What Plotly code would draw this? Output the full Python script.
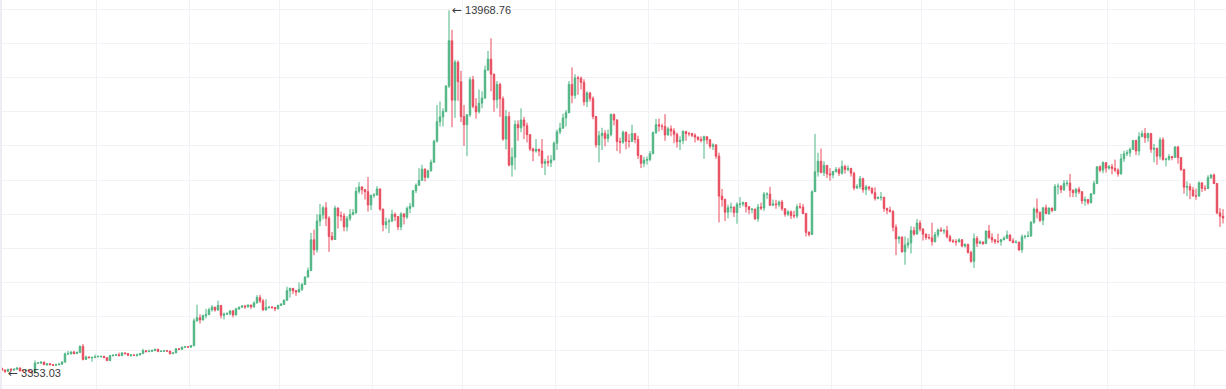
import pandas as pd
import plotly.graph_objects as go

# ---- daily OHLC, 2019-01-28 .. 2020-03-10 ----
open_ = [
    # Jan 2019 (28-31)
    3490, 3440, 3402, 3460,
    # Feb 2019
    3435, 3462, 3500, 3412, 3410, 3437, 3390, 3375, 3640, 3645, 3672, 3595, 3620, 3595, 3580, 3590, 3610, 3670, 3910, 3915, 3965, 3920, 3955, 4130, 3750, 3820, 3800, 3810,
    # Mar 2019
    3820, 3835, 3840, 3800, 3715, 3860, 3870, 3885, 3860, 3940, 3920, 3870, 3880, 3870, 3880, 3920, 4005, 3980, 3985, 4015, 4045, 3985, 3990, 4000, 3995, 3920, 3940, 4060, 4045, 4110, 4120,
    # Apr 2019
    4110, 4150, 4880, 4970, 4905, 5035, 5060, 5200, 5280, 5195, 5330, 5040, 5080, 5085, 5170, 5050, 5230, 5280, 5310, 5290, 5340, 5290, 5400, 5560, 5460, 5200, 5270, 5280, 5270, 5230,
    # May 2019
    5330, 5360, 5480, 5760, 5830, 5760, 5720, 5800, 5940, 6160, 6350, 7250, 6960, 7800, 7980, 8190, 7880, 7350, 7260, 8180, 7950, 7950, 7630, 7870, 7990, 8050, 8670, 8800, 8720, 8660, 8270,
    # Jun 2019
    8550, 8560, 8740, 8150, 7690, 7780, 7800, 8000, 7930, 7630, 8010, 7920, 8170, 8230, 8690, 8850, 8990, 9320, 9080, 9270, 9520, 10140, 10710, 10850, 11010, 11750, 13080, 11340, 12450, 11880,
    # Jul 2019
    10860, 10620, 10910, 11940, 11160, 11000, 11250, 11400, 12220, 12540, 12100, 11350, 11800, 11380, 10200, 10860, 9440, 9670, 10630, 10530, 10760, 10590, 10330, 9910, 9850, 9900, 9850, 9490, 9540, 9510, 9590,
    # Aug 2019
    10080, 10410, 10520, 10820, 10970, 11800, 11480, 11990, 11980, 11860, 11290, 11550, 11390, 10860, 10030, 10300, 10370, 10220, 10330, 10920, 10760, 10130, 10110, 10400, 10140, 10130, 10360, 10190, 9720, 9490, 9580,
    # Sep 2019
    9600, 9770, 10390, 10620, 10580, 10570, 10320, 10500, 10440, 10340, 10120, 10160, 10420, 10360, 10360, 10310, 10260, 10190, 10160, 10270, 10180, 9990, 10030, 9700, 8530, 8430, 8060, 8190, 8210, 8050,
    # Oct 2019
    8290, 8300, 8340, 8220, 8140, 8150, 7870, 8210, 8180, 8590, 8590, 8260, 8300, 8280, 8360, 8160, 8000, 8070, 7960, 7950, 8220, 8210, 8020, 7470, 7410, 8660, 9240, 9550, 9220, 9430, 9180,
    # Nov 2019
    9150, 9250, 9310, 9200, 9400, 9310, 9340, 9200, 8770, 8810, 9040, 8720, 8800, 8760, 8630, 8460, 8490, 8500, 8170, 8120, 8080, 7620, 7280, 7330, 6900, 7100, 7160, 7520, 7420, 7740,
    # Dec 2019
    7570, 7420, 7320, 7310, 7200, 7400, 7540, 7510, 7520, 7340, 7220, 7200, 7190, 7250, 7070, 7110, 6880, 6620, 7290, 7150, 7190, 7140, 7510, 7320, 7250, 7200, 7200, 7250, 7300, 7390, 7220,
    # Jan 2020
    7170, 7180, 6960, 7340, 7350, 7360, 7760, 8150, 8060, 7820, 8190, 8020, 8180, 8110, 8810, 8820, 8720, 8900, 8910, 8700, 8630, 8730, 8660, 8390, 8430, 8340, 8600, 8900, 9390, 9290, 9510,
    # Feb 2020
    9350, 9390, 9340, 9290, 9180, 9620, 9770, 9800, 9900, 10160, 9850, 10270, 10360, 10240, 10360, 9900, 9930, 9700, 10180, 9600, 9610, 9690, 9660, 9970, 9660, 9310, 8790, 8810, 8710,
    # Mar 2020 (1-10)
    8530, 8530, 8920, 8760, 8750, 9070, 9150, 8900, 8040, 7940,
]

high = [
    3500, 3447, 3470, 3490,
    3480, 3510, 3505, 3430, 3445, 3442, 3402, 3720, 3660, 3680, 3675, 3640, 3648, 3610, 3625, 3635, 3700, 3950, 4000, 3990, 4000, 3980, 4160, 4200, 3860, 3830, 3825, 3890,
    3870, 3850, 3850, 3810, 3880, 3900, 3910, 3950, 3955, 3945, 3925, 3900, 3890, 3920, 3935, 4060, 4010, 4040, 4030, 4055, 4060, 4005, 4010, 4005, 4000, 3950, 4080, 4065, 4120, 4135, 4125,
    4160, 4950, 5350, 5070, 5060, 5230, 5260, 5340, 5290, 5470, 5340, 5120, 5130, 5190, 5200, 5250, 5290, 5340, 5350, 5360, 5350, 5450, 5630, 5640, 5520, 5510, 5300, 5310, 5280, 5350,
    5400, 5510, 5880, 5850, 5840, 5780, 6000, 5990, 6180, 6440, 7450, 7550, 8000, 8300, 8250, 8350, 7940, 7480, 8250, 8200, 8080, 8030, 7950, 8150, 8150, 8790, 8940, 8820, 8740, 9090, 8580,
    8620, 8820, 8750, 8160, 7900, 7870, 8130, 8050, 7950, 8060, 8030, 8230, 8330, 8700, 8900, 9350, 9450, 9340, 9300, 9600, 10180, 11200, 11300, 11100, 11780, 13968.76, 13400, 12520, 12500, 12200,
    11200, 10930, 12020, 12050, 11400, 11650, 11600, 12350, 12780, 13150, 12120, 11900, 11850, 11450, 11050, 11000, 9950, 10750, 10750, 11100, 10850, 10680, 10350, 9950, 10200, 9920, 10200, 9620, 9720, 9730, 10130,
    10480, 10680, 10940, 11050, 11900, 12300, 12100, 12050, 12030, 11950, 11600, 11580, 11450, 10880, 10440, 10530, 10460, 10480, 10950, 10950, 10780, 10240, 10450, 10420, 10350, 10620, 10380, 10300, 9730, 9680, 9690,
    9850, 10420, 10790, 10800, 10650, 10930, 10560, 10600, 10520, 10390, 10280, 10460, 10440, 10410, 10380, 10370, 10270, 10280, 10300, 10280, 10200, 10080, 10050, 9800, 8740, 8460, 8280, 8340, 8220, 8350,
    8500, 8370, 8350, 8230, 8170, 8160, 8300, 8340, 8650, 8640, 8800, 8430, 8420, 8400, 8420, 8170, 8120, 8110, 8100, 8290, 8330, 8300, 8040, 7500, 8700, 10350, 9800, 9920, 9550, 9440, 9350,
    9270, 9380, 9370, 9570, 9450, 9430, 9360, 9240, 8880, 9120, 9070, 8860, 8820, 8780, 8790, 8520, 8650, 8500, 8190, 8220, 8120, 7700, 7360, 7350, 7350, 7300, 7650, 7630, 7860, 7820,
    7580, 7430, 7420, 7750, 7480, 7580, 7620, 7570, 7660, 7400, 7270, 7270, 7300, 7270, 7150, 7140, 6930, 7440, 7360, 7230, 7190, 7520, 7690, 7440, 7270, 7430, 7280, 7350, 7520, 7410, 7300,
    7250, 7200, 7410, 7400, 7500, 7800, 8200, 8460, 8070, 8200, 8280, 8200, 8190, 8880, 8900, 8850, 9000, 9000, 9180, 8730, 8770, 8800, 8670, 8520, 8440, 8600, 8980, 9400, 9430, 9550, 9520,
    9440, 9470, 9600, 9340, 9770, 9860, 9880, 9950, 10160, 10180, 10400, 10450, 10520, 10390, 10380, 10060, 9950, 10250, 10250, 9650, 9760, 9700, 9990, 10000, 9670, 9330, 8960, 8900, 8800,
    8750, 8960, 8920, 8850, 9140, 9170, 9190, 8900, 8180, 8150,
]

low = [
    3410, 3353.03, 3390, 3428,
    3420, 3450, 3402, 3395, 3404, 3370, 3365, 3370, 3615, 3610, 3585, 3560, 3580, 3555, 3570, 3585, 3590, 3660, 3880, 3890, 3895, 3910, 3935, 3720, 3745, 3780, 3680, 3785,
    3815, 3800, 3790, 3700, 3705, 3830, 3860, 3840, 3855, 3895, 3850, 3820, 3850, 3830, 3870, 3915, 3950, 3955, 3975, 3985, 3960, 3965, 3980, 3970, 3890, 3900, 3935, 4020, 4035, 4080, 4095,
    4085, 4145, 4850, 4800, 4890, 4950, 5055, 5150, 5150, 5175, 4950, 4920, 5050, 5040, 4980, 5040, 5200, 5260, 5230, 5270, 5230, 5260, 5390, 5400, 5170, 5180, 5230, 5230, 5160, 5220,
    5320, 5350, 5470, 5560, 5660, 5610, 5710, 5750, 5930, 6150, 6340, 6800, 6880, 7650, 7850, 7650, 6900, 7230, 7250, 7580, 7800, 7500, 7500, 7800, 7970, 8000, 8600, 8580, 8430, 8080, 8120,
    8480, 8550, 8100, 7500, 7570, 7450, 7770, 7800, 7530, 7530, 7700, 7860, 8030, 8200, 8620, 8830, 8980, 8960, 9050, 9250, 9520, 10100, 10570, 10570, 10980, 11700, 10550, 10820, 11320, 10700,
    10000, 9700, 10850, 11100, 10800, 10950, 11100, 11380, 12200, 11600, 11000, 11100, 10850, 10150, 9900, 9400, 9100, 9300, 10150, 10400, 10200, 10100, 9850, 9550, 9800, 9700, 9350, 9150, 9400, 9380, 9580,
    9880, 10340, 10500, 10570, 10960, 11250, 11380, 11500, 11650, 11180, 11140, 11300, 10780, 9950, 9520, 9880, 9990, 10110, 10280, 10600, 9850, 9780, 10060, 9900, 9950, 10120, 10080, 9620, 9350, 9380, 9450,
    9550, 9760, 10350, 10420, 10460, 10150, 10300, 10280, 10080, 9950, 9880, 10050, 10150, 10280, 10260, 10100, 10150, 10100, 9620, 10050, 9920, 9880, 9620, 7760, 8220, 7800, 7880, 8050, 7920, 7720,
    8180, 8230, 8050, 8000, 8030, 7830, 7780, 8120, 8100, 8450, 8250, 8250, 8160, 8210, 8100, 7930, 7940, 7860, 7880, 7880, 8160, 8000, 7350, 7350, 7390, 8650, 9100, 9200, 9120, 9060, 8980,
    9050, 9220, 9120, 9160, 9190, 9250, 9100, 8700, 8740, 8740, 8630, 8560, 8690, 8580, 8400, 8440, 8400, 8070, 8000, 8050, 7500, 6800, 7140, 6880, 6520, 7000, 6850, 7370, 7400, 7500,
    7230, 7250, 7260, 7080, 7170, 7320, 7500, 7420, 7290, 7180, 7160, 7080, 7180, 7030, 7020, 6850, 6580, 6430, 7040, 7120, 7100, 7130, 7270, 7160, 7130, 7150, 7080, 7240, 7280, 7220, 7150,
    7150, 6920, 6870, 7280, 7330, 7350, 7720, 7880, 7770, 7680, 8000, 7980, 8060, 8110, 8580, 8620, 8680, 8820, 8500, 8500, 8500, 8590, 8300, 8250, 8280, 8310, 8580, 8880, 9230, 9200, 9220,
    9300, 9170, 9230, 9100, 9160, 9530, 9700, 9680, 9880, 9730, 9720, 10260, 10090, 10120, 9800, 9520, 9450, 9600, 9570, 9400, 9570, 9580, 9660, 9480, 9260, 8600, 8530, 8440, 8530,
    8420, 8520, 8650, 8680, 8740, 9030, 8880, 8000, 7630, 7730,
]

close = [
    3440, 3402, 3460, 3435,
    3462, 3500, 3412, 3410, 3437, 3390, 3375, 3640, 3645, 3672, 3595, 3620, 3595, 3580, 3590, 3610, 3670, 3910, 3915, 3965, 3920, 3955, 4130, 3750, 3820, 3800, 3810, 3820,
    3835, 3840, 3800, 3715, 3860, 3870, 3885, 3860, 3940, 3920, 3870, 3880, 3870, 3880, 3920, 4005, 3980, 3985, 4015, 4045, 3985, 3990, 4000, 3995, 3920, 3940, 4060, 4045, 4110, 4120, 4110,
    4150, 4880, 4970, 4905, 5035, 5060, 5200, 5280, 5195, 5330, 5040, 5080, 5085, 5170, 5050, 5230, 5280, 5310, 5290, 5340, 5290, 5400, 5560, 5460, 5200, 5270, 5280, 5270, 5230, 5330,
    5360, 5480, 5760, 5830, 5760, 5720, 5800, 5940, 6160, 6350, 7250, 6960, 7800, 7980, 8190, 7880, 7350, 7260, 8180, 7950, 7950, 7630, 7870, 7990, 8050, 8670, 8800, 8720, 8660, 8270, 8550,
    8560, 8740, 8150, 7690, 7780, 7800, 8000, 7930, 7630, 8010, 7920, 8170, 8230, 8690, 8850, 8990, 9320, 9080, 9270, 9520, 10140, 10710, 10850, 11010, 11750, 13080, 11340, 12450, 11880, 10860,
    10620, 10910, 11940, 11160, 11000, 11250, 11400, 12220, 12540, 12100, 11350, 11800, 11380, 10200, 10860, 9440, 9670, 10630, 10530, 10760, 10590, 10330, 9910, 9850, 9900, 9850, 9490, 9540, 9510, 9590, 10080,
    10410, 10520, 10820, 10970, 11800, 11480, 11990, 11980, 11860, 11290, 11550, 11390, 10860, 10030, 10300, 10370, 10220, 10330, 10920, 10760, 10130, 10110, 10400, 10140, 10130, 10360, 10190, 9720, 9490, 9580, 9600,
    9770, 10390, 10620, 10580, 10570, 10320, 10500, 10440, 10340, 10120, 10160, 10420, 10360, 10360, 10310, 10260, 10190, 10160, 10270, 10180, 9990, 10030, 9700, 8530, 8430, 8060, 8190, 8210, 8050, 8290,
    8300, 8340, 8220, 8140, 8150, 7870, 8210, 8180, 8590, 8590, 8260, 8300, 8280, 8360, 8160, 8000, 8070, 7960, 7950, 8220, 8210, 8020, 7470, 7410, 8660, 9240, 9550, 9220, 9430, 9180, 9150,
    9250, 9310, 9200, 9400, 9310, 9340, 9200, 8770, 8810, 9040, 8720, 8800, 8760, 8630, 8460, 8490, 8500, 8170, 8120, 8080, 7620, 7280, 7330, 6900, 7100, 7160, 7520, 7420, 7740, 7570,
    7420, 7320, 7310, 7200, 7400, 7540, 7510, 7520, 7340, 7220, 7200, 7190, 7250, 7070, 7110, 6880, 6620, 7290, 7150, 7190, 7140, 7510, 7320, 7250, 7200, 7200, 7250, 7300, 7390, 7220, 7170,
    7180, 6960, 7340, 7350, 7360, 7760, 8150, 8060, 7820, 8190, 8020, 8180, 8110, 8810, 8820, 8720, 8900, 8910, 8700, 8630, 8730, 8660, 8390, 8430, 8340, 8600, 8900, 9390, 9290, 9510, 9350,
    9390, 9340, 9290, 9180, 9620, 9770, 9800, 9900, 10160, 9850, 10270, 10360, 10240, 10360, 9900, 9930, 9700, 10180, 9600, 9610, 9690, 9660, 9970, 9660, 9310, 8790, 8810, 8710, 8530,
    8530, 8920, 8760, 8750, 9070, 9150, 8900, 8040, 7940, 7890,
]

first_day = "2019-01-28 12:00"
month_lines = ["2019-%02d-01" % m for m in range(3, 13)] + ["2020-01-01", "2020-02-01", "2020-03-01"]
price_grid = list(range(3000, 15000, 1000))

assert len(open_) == len(high) == len(low) == len(close)
dates = pd.date_range(first_day, periods=len(close), freq="D")

UP = "#4DB482"
DOWN = "#E84A5C"
GRID = "#F0F2F6"

fig = go.Figure(go.Candlestick(
    x=dates, open=open_, high=high, low=low, close=close,
    increasing=dict(line=dict(color=UP, width=1), fillcolor=UP),
    decreasing=dict(line=dict(color=DOWN, width=1), fillcolor=DOWN),
    whiskerwidth=0, hoverinfo="x+y",
))

i_max = max(range(len(high)), key=lambda i: high[i])
i_min = min(range(len(low)), key=lambda i: low[i])
for i, val in ((i_max, high[i_max]), (i_min, low[i_min])):
    fig.add_annotation(
        x=dates[i], y=val,
        text='<span style="font-family:DejaVu Sans;font-size:12px">\u2190</span> %.2f' % val,
        showarrow=False, xanchor="left", yanchor="middle", xshift=1,
        font=dict(family="Arial, Liberation Sans, sans-serif", size=11, color="#3a3a3a"),
    )

fig.add_shape(type="rect", xref="paper", yref="paper", x0=0, x1=2 / 1226, y0=0, y1=1,
              fillcolor="#ECEEF3", line=dict(width=0), layer="above")

fig.update_layout(
    width=1226, height=389,
    margin=dict(l=0, r=0, t=0, b=0),
    paper_bgcolor="white", plot_bgcolor="white",
    showlegend=False, boxgap=0.3,
    xaxis=dict(
        type="date",
        range=["2019-01-27 20:00", "2020-03-11 12:00"],
        rangeslider=dict(visible=False),
        tickmode="array", tickvals=month_lines,
        showgrid=True, gridcolor=GRID, gridwidth=1,
        showticklabels=False, zeroline=False, showline=False, ticks="",
    ),
    yaxis=dict(
        range=[2883, 14272],
        tickmode="array", tickvals=price_grid,
        showgrid=True, gridcolor=GRID, gridwidth=1,
        showticklabels=False, zeroline=False, showline=False, ticks="",
    ),
)

fig.write_html(
    "out.html",
    config={"displayModeBar": False},
    post_script="document.body.style.margin='0';document.body.style.overflow='hidden';",
)
